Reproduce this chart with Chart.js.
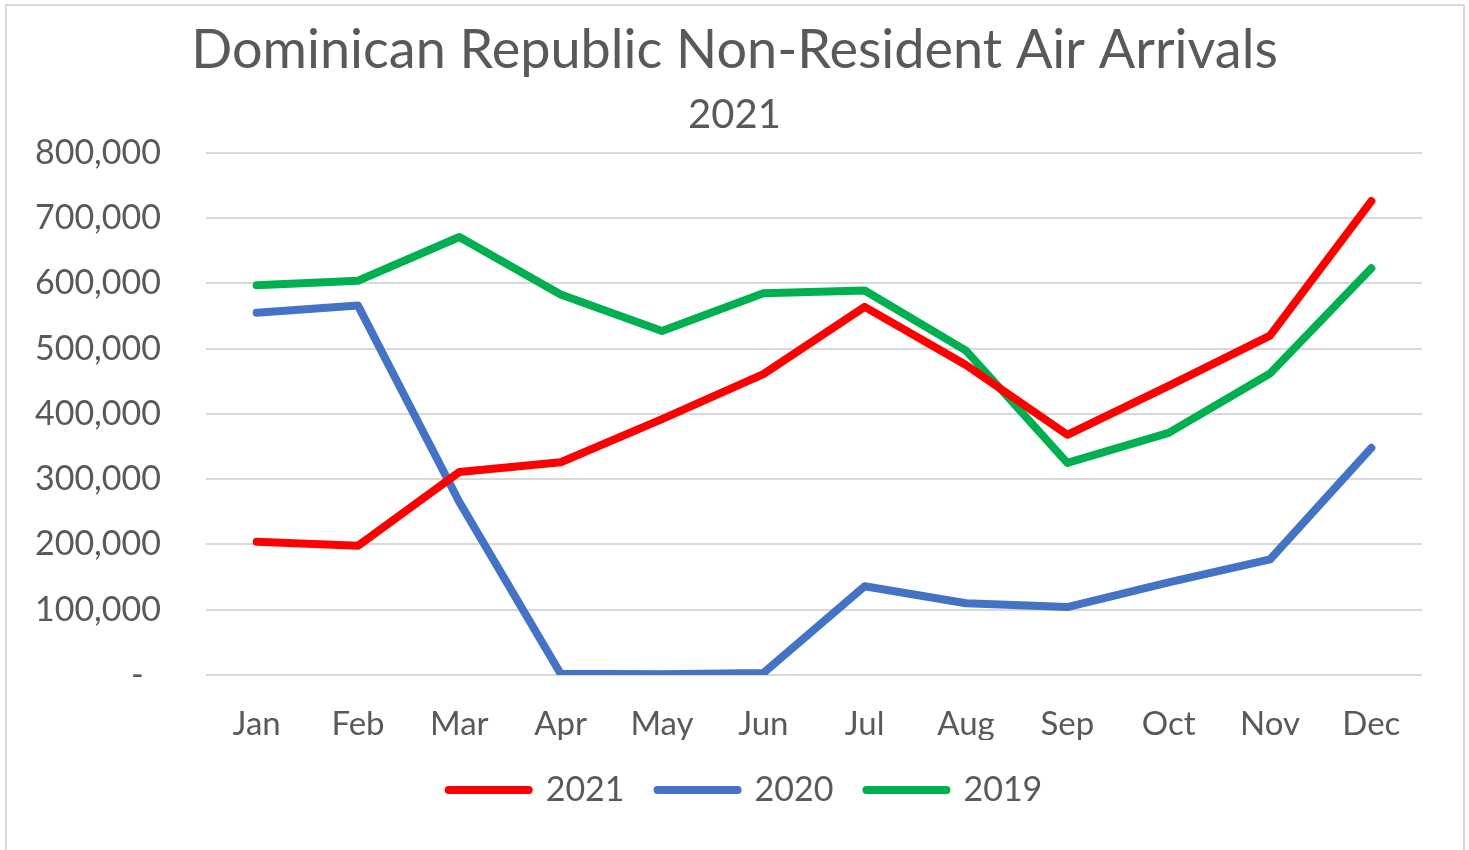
<!DOCTYPE html>
<html>
<head>
<meta charset="utf-8">
<script src="https://cdn.jsdelivr.net/npm/chart.js@4"></script>
<style>
  body { margin: 0; background: #fff; }
  #wrap { position: absolute; left: 0; top: 0; width: 1469px; height: 850px; }
</style>
</head>
<body>
<div id="wrap"><canvas id="arrivals"></canvas></div>
<script>
const months = ["Jan", "Feb", "Mar", "Apr", "May", "Jun", "Jul", "Aug", "Sep", "Oct", "Nov", "Dec"]
const arrivals2021 = [204000, 198000, 311000, 326000, 392000, 461000, 564000, 475000, 368000, 443000, 520000, 726000]
const arrivals2020 = [555000, 566000, 265000, 2000, 1000, 3000, 136000, 110000, 104000, 142000, 177000, 348000]
const arrivals2019 = [597000, 604000, 671000, 583000, 527000, 585000, 589000, 497000, 325000, 371000, 462000, 623000]
const yTicks = [0, 100000, 200000, 300000, 400000, 500000, 600000, 700000, 800000]

const textColor = "#595959"
const font = "Lato, 'Open Sans', sans-serif"

// white background + light frame like the Excel chart border
const frame = {
  id: 'frame',
  beforeDraw(chart) {
    const c = chart.ctx
    c.save()
    c.fillStyle = '#fff'
    c.fillRect(0, 0, chart.width, chart.height)
    c.strokeStyle = '#d9d9d9'
    c.lineWidth = 2
    c.strokeRect(6, 5, 1458, 870)
    c.restore()
  }
}

// nudge the legend a little to the right, as in the original
const legendNudge = {
  id: 'legendNudge',
  afterLayout(chart) {
    chart.legend.left += 11
    chart.legend.right += 11
  }
}

function line(label, data, color) {
  return {
    label: label,
    data: data,
    borderColor: color,
    backgroundColor: color,
    borderWidth: 8,
    borderCapStyle: 'round',
    borderJoinStyle: 'round',
    pointRadius: 0,
    tension: 0,
    fill: false
  }
}

const ctx = document.getElementById('arrivals')
new Chart(ctx, {
  type: 'line',
  data: {
    labels: months,
    datasets: [
      line('2021', arrivals2021, '#ff0000'),
      line('2020', arrivals2020, '#4472c4'),
      line('2019', arrivals2019, '#00b050')
    ]
  },
  plugins: [frame, legendNudge],
  options: {
    responsive: true,
    maintainAspectRatio: false,
    animation: false,
    layout: { padding: { top: 0, left: 0, right: 0, bottom: 33 } },
    plugins: {
      title: {
        display: true,
        text: 'Dominican Republic Non-Resident Air Arrivals',
        color: textColor,
        font: { family: font, size: 54, weight: 'normal', lineHeight: 1.2 },
        padding: { top: 18, bottom: 8 }
      },
      subtitle: {
        display: true,
        text: '2021',
        color: textColor,
        font: { family: font, size: 40, weight: 'normal', lineHeight: 1.2 },
        padding: { top: 0, bottom: 14 }
      },
      legend: {
        position: 'bottom',
        labels: {
          usePointStyle: true,
          pointStyle: 'line',
          pointStyleWidth: 80,
          padding: 33,
          color: textColor,
          font: { family: font, size: 34 },
          generateLabels(chart) {
            return Chart.defaults.plugins.legend.labels.generateLabels(chart)
              .map(item => ({ ...item, lineCap: 'round' }))
          }
        }
      },
      tooltip: { enabled: false }
    },
    scales: {
      x: {
        offset: true,
        grid: { display: false, drawTicks: false },
        border: { display: false },
        ticks: {
          color: textColor,
          padding: 33,
          font: { family: font, size: 33, lineHeight: 1 }
        },
        afterFit(scale) { scale.height = 65 }
      },
      y: {
        min: 0,
        max: 800000,
        afterBuildTicks(scale) { scale.ticks = yTicks.map(v => ({ value: v })) },
        grid: { color: '#d9d9d9', lineWidth: 2, drawTicks: false },
        border: { display: false },
        ticks: {
          color: textColor,
          padding: 45,
          font: { family: font, size: 34 },
          callback: v => v === 0 ? '-  ' : v.toLocaleString('en-US')
        },
        afterFit(scale) { scale.width = 206 }
      },
      // empty right axis, only reserves the gap on the right
      y2: {
        position: 'right',
        grid: { display: false },
        border: { display: false },
        ticks: { display: false },
        afterFit(scale) { scale.width = 47 }
      }
    }
  }
})
</script>
</body>
</html>
